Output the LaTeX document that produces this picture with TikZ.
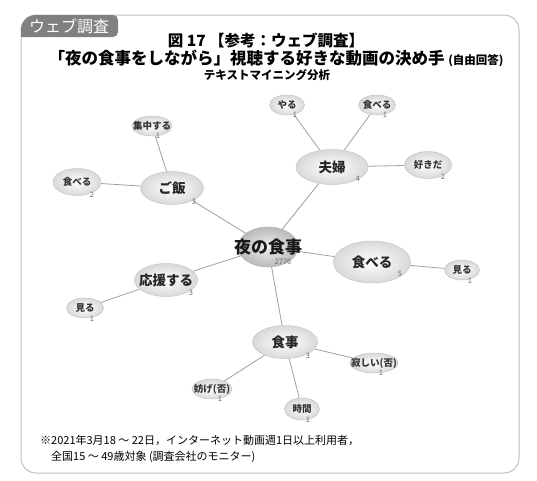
\documentclass[tikz,border=0pt]{standalone}
\usepackage{fontspec}
\setmainfont{Noto Sans CJK JP}
\usetikzlibrary{shapes.geometric,backgrounds}
\begin{document}
\begin{tikzpicture}[x=1pt,y=-1pt,
  blob/.style={ellipse, draw=gray!45, line width=0.5pt, shading=radial, inner color=white, outer color=gray!30, inner sep=0pt},
  hub/.style={ellipse, draw=gray!60, line width=0.5pt, shading=radial, inner color=gray!12, outer color=gray!55, inner sep=0pt},
  huge/.style={font=\bfseries\fontsize{17}{18}\selectfont, text=black!90},
  big/.style={font=\bfseries\fontsize{13.5}{14}\selectfont, text=black!85},
  small/.style={font=\bfseries\fontsize{9.5}{10}\selectfont, text=black!80},
  num/.style={font=\fontsize{7.5}{8}\selectfont, text=gray!85!black, inner sep=0pt},
  link/.style={draw=gray!75, line width=0.8pt},
  titlef/.style={font=\bfseries\fontsize{15.5}{16}\selectfont, inner sep=0pt},
  foot/.style={font=\fontsize{11}{12}\selectfont, inner sep=0pt, anchor=west},
]
\useasboundingbox (0,0) rectangle (537,480);
% frame
\draw[gray!50, line width=1pt, rounded corners=15pt] (21,15) rectangle (519,473);
% tag
\fill[black!50] (21,37) -- (21,30) arc[start angle=180, end angle=270, radius=15] -- (113,15) arc[start angle=270, end angle=360, radius=5] -- (118,32) arc[start angle=0, end angle=90, radius=5] -- cycle;
\node[font=\fontsize{16}{17}\selectfont, text=white, inner sep=0pt] (tag) at (69,26) {ウェブ調査};
% titles
\node[titlef] (t1) at (266,40) {図 17 【参考：ウェブ調査】};
\node[font=\bfseries\fontsize{16.5}{17}\selectfont, inner sep=0pt] (t2) at (276,58) {「夜の食事をしながら」視聴する好きな動画の決め手 {\fontsize{11.5}{12}\selectfont (自由回答)}};
\node[font=\bfseries\fontsize{11.5}{12}\selectfont, inner sep=0pt] (t3) at (267,75) {テキストマイニング分析};

% nodes
\node[hub, minimum width=60pt, minimum height=40pt, label={[huge]center:夜の食事}] (c) at (268,247) {};
\node[num] (cn) at (283,262) {2776};

\node[blob, minimum width=63pt, minimum height=33pt, label={[big]center:ご飯}] (gohan) at (172,188) {};
\node[num] (gohann) at (194,202) {3};
\node[blob, minimum width=40pt, minimum height=20pt, label={[small]center:集中する}] (shuchu) at (152,126) {};
\node[num] (shuchun) at (158,136) {1};
\node[blob, minimum width=48pt, minimum height=27pt, label={[small]center:食べる}] (taberuL) at (77,182) {};
\node[num] (taberuLn) at (92,195) {2};

\node[blob, minimum width=72pt, minimum height=35pt, label={[big]center:夫婦}] (fufu) at (332,167) {};
\node[num] (fufun) at (358,179) {4};
\node[blob, minimum width=35pt, minimum height=20pt, label={[small]center:やる}] (yaru) at (287,105) {};
\node[num] (yarun) at (295,115) {1};
\node[blob, minimum width=37pt, minimum height=20pt, label={[small]center:食べる}] (taberuT) at (377,105) {};
\node[num] (taberuTn) at (385,115) {1};
\node[blob, minimum width=47pt, minimum height=27pt, label={[small]center:好きだ}] (suki) at (428,165) {};
\node[num] (sukin) at (443,177) {2};

\node[blob, minimum width=63pt, minimum height=33pt, label={[big]center:応援する}] (ouen) at (166,280) {};
\node[num] (ouenn) at (191,293) {3};
\node[blob, minimum width=37pt, minimum height=20pt, label={[small]center:見る}] (miruL) at (85,308) {};
\node[num] (miruLn) at (92,319) {1};

\node[blob, minimum width=77pt, minimum height=42pt, label={[big]center:食べる}] (taberuR) at (372,262) {};
\node[num] (taberuRn) at (400,274) {5};
\node[blob, minimum width=35pt, minimum height=20pt, label={[small]center:見る}] (miruR) at (462,270) {};
\node[num] (miruRn) at (470,281) {1};

\node[blob, minimum width=65pt, minimum height=33pt, label={[big]center:食事}] (shokuji) at (285,342) {};
\node[num] (shokujin) at (308,356) {3};
\node[blob, minimum width=48pt, minimum height=20pt, label={[small]center:寂しい(否)}] (sabishii) at (374,363) {};
\node[num] (sabishiin) at (381,373) {1};
\node[blob, minimum width=40pt, minimum height=20pt, label={[small]center:妨げ(否)}] (samatage) at (212,389) {};
\node[num] (samatagen) at (220,399) {1};
\node[blob, minimum width=35pt, minimum height=22pt, label={[small]center:時間}] (jikan) at (302,409) {};
\node[num] (jikann) at (308,420) {1};

\begin{scope}[on background layer]
\draw[link] (c) -- (gohan);
\draw[link] (c) -- (fufu);
\draw[link] (c) -- (ouen);
\draw[link] (c) -- (taberuR);
\draw[link] (c) -- (shokuji);
\draw[link] (gohan) -- (shuchu);
\draw[link] (gohan) -- (taberuL);
\draw[link] (fufu) -- (yaru);
\draw[link] (fufu) -- (taberuT);
\draw[link] (fufu) -- (suki);
\draw[link] (ouen) -- (miruL);
\draw[link] (taberuR) -- (miruR);
\draw[link] (shokuji) -- (sabishii);
\draw[link] (shokuji) -- (samatage);
\draw[link] (shokuji) -- (jikan);
\end{scope}

% footnote
\node[foot] (f1) at (40,440) {※2021年3月18 ～ 22日，インターネット動画週1日以上利用者，};
\node[foot] (f2) at (51,457) {全国15 ～ 49歳対象 (調査会社のモニター)};
\end{tikzpicture}
\end{document}
